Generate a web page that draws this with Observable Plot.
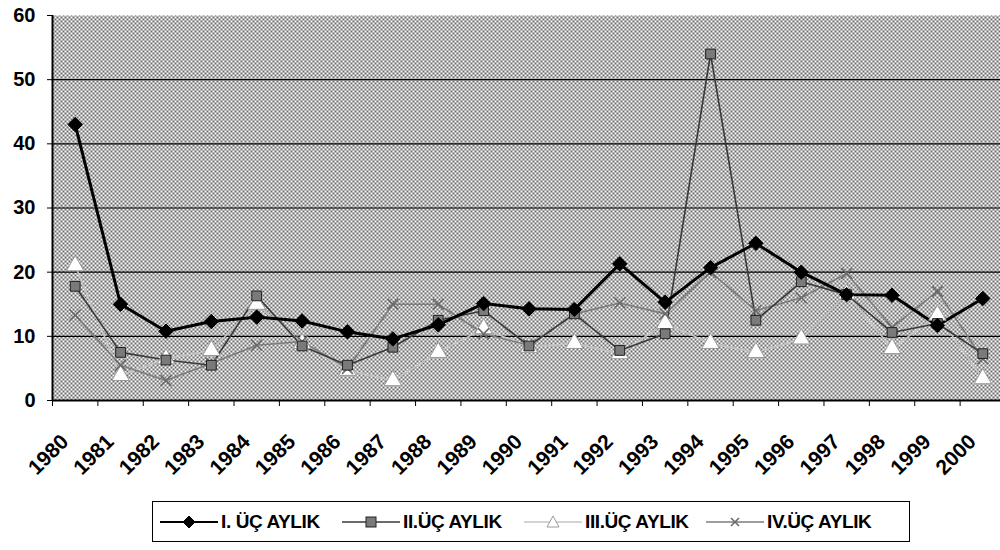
<!DOCTYPE html>
<html>
<head>
<meta charset="utf-8">
<script src="https://cdn.jsdelivr.net/npm/d3@7"></script>
<script src="https://cdn.jsdelivr.net/npm/@observablehq/plot@0.6"></script>
<style>
  html, body { margin: 0; padding: 0; background: #fff; }
  #wrap { position: relative; width: 1000px; height: 550px; overflow: hidden; font-family: "Liberation Sans", Arial, sans-serif; }
  #legend { position: absolute; left: 152px; top: 501px; width: 758px; height: 41px; border: 1px solid #000; box-sizing: border-box; display: flex; align-items: center; font-weight: bold; font-size: 19px; letter-spacing: -0.4px; color: #000; padding-left: 7px; }
  #legend .item { display: flex; align-items: center; width: 182px; flex: none; white-space: nowrap; }
  #legend svg { display: block; margin-right: 3px; flex: none; }
</style>
</head>
<body>
<div id="wrap">
  <div id="chart"></div>
  <div id="legend"></div>
</div>
<script>
const years = [1980, 1981, 1982, 1983, 1984, 1985, 1986, 1987, 1988, 1989, 1990, 1991, 1992, 1993, 1994, 1995, 1996, 1997, 1998, 1999, 2000];
const seriesNames = ["I. ÜÇ AYLIK", "II.ÜÇ AYLIK", "III.ÜÇ AYLIK", "IV.ÜÇ AYLIK"];
const q1 = [43, 15, 10.8, 12.3, 13, 12.4, 10.7, 9.6, 11.8, 15.1, 14.3, 14.2, 21.3, 15.3, 20.7, 24.5, 20, 16.5, 16.4, 11.7, 15.9];
const q2 = [17.8, 7.5, 6.3, 5.5, 16.3, 8.5, 5.5, 8.3, 12.5, 14, 8.5, 13.5, 7.8, 10.4, 54, 12.5, 18.5, 16.5, 10.6, 12, 7.3];
const q3 = [21, 3.9, 6.5, 7.8, 15, 8.9, 4.7, 3.1, 7.5, 11.2, 8.3, 8.9, 7.3, 12, 8.9, 7.5, 9.6, 16.6, 8.1, 13.3, 3.4];
const q4 = [13.3, 5.5, 3.1, 5.8, 8.6, 9.2, 5, 15, 15, 10.4, 8.6, 13.5, 15.2, 13.5, 20, 14, 16, 19.8, 11.4, 17, 6.5];
const yTicks = [0, 10, 20, 30, 40, 50, 60];
const gridValues = [10, 20, 30, 40, 50];

const styles = [
  {line: "#000", width: 3, symbol: "diamond2", fill: "#000", stroke: "#000", r: 6.5},
  {line: "#3a3a3a", width: 1.6, symbol: "square", fill: "#7a7a7a", stroke: "#222", r: 5.5},
  {line: "#c4c4c4", width: 1.6, symbol: "triangle", fill: "#fff", stroke: "#9a9a9a", r: 6.5},
  {line: "#7d7d7d", width: 1.6, symbol: "times", fill: "none", stroke: "#6a6a6a", r: 5}
];
const data = [q1, q2, q3, q4];
const cx = d => d + 0.5;

const seriesMarks = [];
for (const k of [2, 3, 1, 0]) {
  const s = styles[k], vals = data[k];
  seriesMarks.push(Plot.line(years, {x: cx, y: (d, i) => vals[i], stroke: s.line, strokeWidth: s.width}));
}
for (const k of [2, 3, 1, 0]) {
  const s = styles[k], vals = data[k];
  seriesMarks.push(Plot.dot(years, {x: cx, y: (d, i) => vals[i], symbol: () => s.symbol, r: s.r, fill: s.fill, stroke: s.stroke, strokeWidth: k === 3 ? 1.6 : 1}));
}

const chart = Plot.plot({
  width: 1000,
  height: 495,
  marginLeft: 52,
  marginRight: 0,
  marginTop: 15,
  marginBottom: 95,
  style: {fontFamily: "'Liberation Sans', Arial, sans-serif", fontSize: "20px", fontWeight: "bold", color: "#000", background: "#fff"},
  x: {domain: [1980, 2001], range: [52, 1005], ticks: d3.range(1980, 2002), tickFormat: () => "", tickSize: 6, label: null},
  y: {domain: [0, 60], ticks: yTicks, tickSize: 5, tickPadding: 12, label: null},
  symbol: {type: "identity"},
  marks: [
    Plot.frame({fill: "url(#dotpat)", stroke: "none"}),
    Plot.ruleY(gridValues, {stroke: "#000", strokeWidth: 1.2}),
    Plot.ruleY([0], {stroke: "#000", strokeWidth: 2}),
    Plot.ruleX([1980], {stroke: "#000", strokeWidth: 2}),
    ...seriesMarks,
    Plot.text(years, {x: cx, y: 0, text: d => String(d), rotate: -45, textAnchor: "end", lineAnchor: "top", dx: -16, dy: 32, fontSize: 21, fontWeight: "bold", letterSpacing: "-0.5px"})
  ]
});

// halftone background pattern
const svgns = "http://www.w3.org/2000/svg";
const defs = document.createElementNS(svgns, "defs");
defs.innerHTML = '<pattern id="dotpat" patternUnits="userSpaceOnUse" x="0" y="0" width="4" height="4">' +
  '<rect width="4" height="4" fill="#fff"/>' +
  '<rect x="0" y="0" width="2" height="2" fill="#6a6a6a"/>' +
  '<rect x="2" y="2" width="2" height="2" fill="#6a6a6a"/></pattern>';
chart.insertBefore(defs, chart.firstChild);
document.getElementById("chart").appendChild(chart);

// legend
const legend = document.getElementById("legend");
const symPaths = {
  diamond2: '<path d="M29,3 L35,9 L29,15 L23,9 Z" fill="#000" stroke="#000"/>',
  square: '<rect x="24" y="4" width="10" height="10" fill="#7a7a7a" stroke="#222"/>',
  triangle: '<path d="M29,3 L35,14 L23,14 Z" fill="#fff" stroke="#9a9a9a"/>',
  times: '<path d="M25,5 L33,13 M33,5 L25,13" stroke="#6a6a6a" stroke-width="1.6"/>'
};
seriesNames.forEach((name, k) => {
  const s = styles[k];
  const item = document.createElement("div");
  item.className = "item";
  item.innerHTML = '<svg width="58" height="18"><line x1="0" y1="9" x2="58" y2="9" stroke="' + s.line + '" stroke-width="' + Math.min(s.width, 2.2) + '"/>' + symPaths[s.symbol] + '</svg><span>' + name + '</span>';
  legend.appendChild(item);
});
</script>
</body>
</html>
